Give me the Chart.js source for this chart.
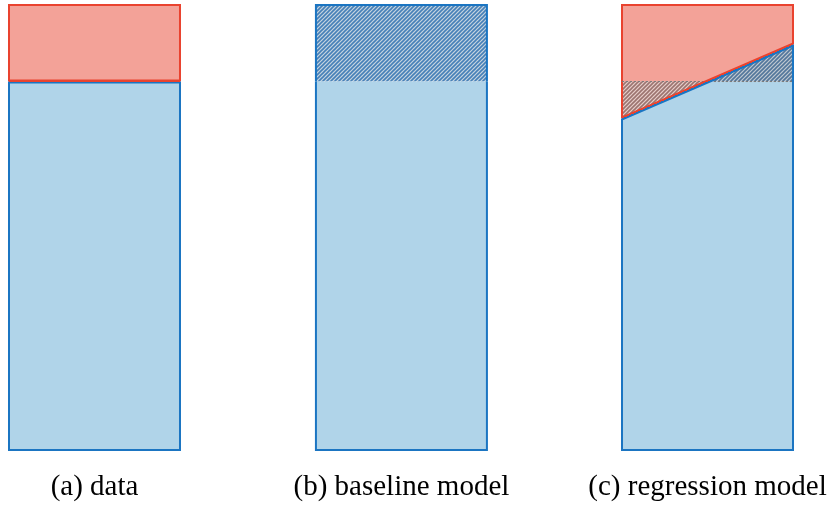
<!DOCTYPE html>
<html>
<head>
<meta charset="utf-8">
<title>data / baseline / regression</title>
<script src="https://cdn.jsdelivr.net/npm/chart.js@4.4.0/dist/chart.umd.min.js"></script>
<style>
  html, body { margin: 0; padding: 0; background: #fff; }
  #wrap { width: 827px; height: 506px; }
</style>
</head>
<body>
<div id="wrap"><canvas id="chart"></canvas></div>
<script>
// Dados (escala 0..1)
const panelLabels = ['(a) data', '(b) baseline model', '(c) regression model'];
const dataSplit = [0.828, 0.828];      // fronteira azul/vermelho nos dados
const baselineFit = [0.828, 0.828];    // modelo constante
const regressionFit = [0.745, 0.911];  // reta da regressão (esq., dir.)
const yRange = [0, 1];

// Layout dos painéis no eixo x (largura de cada painel = 1)
const panelLeft = [0, 1.795, 3.585];
const panelWidth = 1;

const RED = '#e9432f', RED_FILL = '#f3a298';
const BLUE = '#1b75c2', BLUE_FILL = '#b0d4e9';

// Padrão hachurado diagonal
function hatch(bg, fg) {
    const c = document.createElement('canvas');
    c.width = 4; c.height = 4;
    const g = c.getContext('2d');
    g.fillStyle = bg;
    g.fillRect(0, 0, 4, 4);
    g.strokeStyle = fg;
    g.lineWidth = 1.6;
    g.beginPath();
    g.moveTo(0, 4); g.lineTo(4, 0);
    g.moveTo(-1, 1); g.lineTo(1, -1);
    g.moveTo(3, 5); g.lineTo(5, 3);
    g.stroke();
    return g.createPattern(c, 'repeat');
}

// Linha de fronteira com duas cores: vermelho em cima, azul em baixo
function splitStroke(upper, lower, width) {
    return (ctx) => {
        const chart = ctx.chart;
        const ds = ctx.dataset;
        const xs = chart.scales && chart.scales.x;
        const ys = chart.scales && chart.scales.y;
        if (!chart.chartArea || !ds || !xs || !ys) return lower;
        const p = ds.data;
        const x0 = xs.getPixelForValue(p[0].x), y0 = ys.getPixelForValue(p[0].y);
        const x1 = xs.getPixelForValue(p[p.length - 1].x), y1 = ys.getPixelForValue(p[p.length - 1].y);
        const len = Math.hypot(x1 - x0, y1 - y0) || 1;
        const nx = (y1 - y0) / len, ny = -(x1 - x0) / len;
        const mx = (x0 + x1) / 2, my = (y0 + y1) / 2;
        const h = width / 2;
        const grad = chart.ctx.createLinearGradient(mx + nx * h, my + ny * h, mx - nx * h, my - ny * h);
        grad.addColorStop(0, upper);
        grad.addColorStop(0.5, upper);
        grad.addColorStop(0.5, lower);
        grad.addColorStop(1, lower);
        return grad;
    };
}

// Contorno de uma região: sobe/desce pela esquerda, percorre a borda, volta pela direita
function box(i, ends, edge) {
    const x0 = panelLeft[i], x1 = panelLeft[i] + panelWidth;
    return [
        { x: x0, y: ends[0] },
        { x: x0, y: edge },
        { x: x1, y: edge },
        { x: x1, y: ends[1] }
    ];
}

function line(i, ends) {
    const x0 = panelLeft[i], x1 = panelLeft[i] + panelWidth;
    return [{ x: x0, y: ends[0] }, { x: x1, y: ends[1] }];
}

const base = {
    pointRadius: 0,
    pointHoverRadius: 0,
    borderWidth: 2,
    borderJoinStyle: 'miter',
    tension: 0,
    clip: false
};

const datasets = [];
function add(ds) {
    datasets.push(Object.assign({}, base, ds));
    return datasets.length - 1;
}

// (a) dados
const splitA = add({ data: line(0, dataSplit), borderColor: splitStroke(RED, BLUE, 4), borderWidth: 4, fill: false, order: 3 });
add({ data: box(0, dataSplit, yRange[1]), borderColor: RED, backgroundColor: RED_FILL, fill: splitA, order: 5 });
add({ data: box(0, dataSplit, yRange[0]), borderColor: BLUE, backgroundColor: BLUE_FILL, fill: splitA, order: 4 });

// (b) modelo base
const lineB = add({ data: line(1, baselineFit), borderColor: 'rgba(0,0,0,0)', borderWidth: 1, fill: false, order: 3 });
add({ data: box(1, baselineFit, yRange[1]), borderColor: BLUE, backgroundColor: hatch('#c5d4e0', '#4680b8'), fill: lineB, order: 5 });
add({ data: box(1, baselineFit, yRange[0]), borderColor: BLUE, backgroundColor: BLUE_FILL, fill: lineB, order: 4 });

// (c) modelo de regressão
const lineC = add({
    data: line(2, regressionFit),
    borderColor: splitStroke(RED, BLUE, 4),
    borderWidth: 4,
    fill: {
        target: { value: baselineFit[0] },
        above: hatch('#bfc8d0', '#52769b'),
        below: hatch('#e6cdc9', '#9c7470')
    },
    order: 3
});
add({ data: line(2, baselineFit), borderColor: '#7a7a7a', borderWidth: 1, borderDash: [2, 2], fill: false, order: 3.5 });
add({ data: box(2, regressionFit, yRange[1]), borderColor: RED, backgroundColor: RED_FILL, fill: lineC, order: 5 });
add({ data: box(2, regressionFit, yRange[0]), borderColor: BLUE, backgroundColor: BLUE_FILL, fill: lineC, order: 4 });

const ctx = document.getElementById('chart').getContext('2d');
new Chart(ctx, {
    type: 'line',
    data: { datasets },
    options: {
        responsive: true,
        maintainAspectRatio: false,
        animation: false,
        events: [],
        layout: { padding: { left: 9, right: 34, top: 5, bottom: 0 } },
        plugins: {
            legend: { display: false },
            tooltip: { enabled: false },
            filler: { drawTime: 'beforeDatasetsDraw' }
        },
        scales: {
            x: {
                type: 'linear',
                bounds: 'data',
                grid: { display: false, drawTicks: false },
                border: { display: false },
                afterBuildTicks: (scale) => {
                    scale.ticks = panelLeft.map(l => ({ value: l + panelWidth / 2 }));
                },
                afterFit: (scale) => {
                    scale.paddingLeft = 0;
                    scale.paddingRight = 0;
                    scale.height = 56;
                },
                ticks: {
                    autoSkip: false,
                    maxRotation: 0,
                    minRotation: 0,
                    padding: 20,
                    color: '#000',
                    font: { family: "'Liberation Serif', serif", size: 29, lineHeight: 1.2 },
                    callback: (value, index) => panelLabels[index]
                }
            },
            y: {
                display: false,
                min: yRange[0],
                max: yRange[1]
            }
        }
    }
});
</script>
</body>
</html>
